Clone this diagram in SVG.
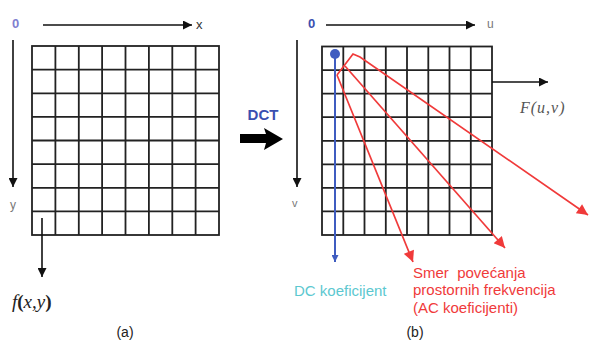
<svg xmlns="http://www.w3.org/2000/svg" width="595" height="343" viewBox="0 0 595 343">
<style>
.grid{fill:none;stroke:#222;stroke-width:1.8}
.ax{stroke:#111;stroke-width:1.6;fill:none}
.red{stroke:#f03a3a;stroke-width:1.7;fill:none}
.lbl{font-family:"Liberation Sans",Arial,sans-serif}
.math{font-family:"Liberation Serif","Times New Roman",serif;font-style:italic}
</style>
<defs>
<marker id="ab" viewBox="0 0 10 10" refX="10" refY="5" markerWidth="12" markerHeight="9" markerUnits="userSpaceOnUse" orient="auto"><path d="M0,0 L10,5 L0,10 z" fill="#111"/></marker>
<marker id="ar" viewBox="0 0 10 10" refX="10" refY="5" markerWidth="13" markerHeight="11" markerUnits="userSpaceOnUse" orient="auto"><path d="M0,0 L10,5 L0,10 z" fill="#f03a3a"/></marker>
<marker id="abl" viewBox="0 0 10 10" refX="10" refY="5" markerWidth="10" markerHeight="7" markerUnits="userSpaceOnUse" orient="auto"><path d="M0,0 L10,5 L0,10 z" fill="#3f5cc0"/></marker>
</defs>
<rect width="595" height="343" fill="#fff"/>

<g id="grid-a">
<rect class="grid" x="32" y="46" width="187" height="189"/>
<path class="grid" d="M55.4,46V235M78.8,46V235M102.1,46V235M125.5,46V235M148.9,46V235M172.3,46V235M195.6,46V235M32,69.6H219M32,93.3H219M32,116.9H219M32,140.5H219M32,164.1H219M32,187.8H219M32,211.4H219"/>
</g>

<g id="grid-b">
<rect class="grid" x="322" y="46.5" width="170" height="188.5"/>
<path class="grid" d="M343.3,46.5V235M364.5,46.5V235M385.8,46.5V235M407,46.5V235M428.3,46.5V235M449.5,46.5V235M470.8,46.5V235M322,70.1H492M322,93.6H492M322,117.2H492M322,140.8H492M322,164.3H492M322,187.9H492M322,211.4H492"/>
</g>

<g id="labels-a">
<text class="lbl" x="12" y="28" font-size="13" fill="#8080d0" font-weight="bold">0</text>
<text class="lbl" x="196" y="29" font-size="13" fill="#333">x</text>
<text class="lbl" x="10" y="209" font-size="12" fill="#777">y</text>
<text class="math" x="12" y="308" font-size="19" fill="#222">f<tspan font-weight="bold" font-style="normal">(</tspan>x,y<tspan font-weight="bold" font-style="normal">)</tspan></text>
<text class="lbl" x="125" y="337" font-size="14" fill="#222" text-anchor="middle">(a)</text>
</g>

<g id="labels-b">
<text class="lbl" x="308" y="28" font-size="13" fill="#3a4fb0" font-weight="bold">0</text>
<text class="lbl" x="487" y="28" font-size="12" fill="#777">u</text>
<text class="lbl" x="292" y="207" font-size="11" fill="#777">v</text>
<text class="math" x="520" y="113" font-size="16" fill="#555" letter-spacing="1">F(u,v)</text>
<text class="lbl" x="294" y="296" font-size="15" fill="#5cc8d0">DC koeficijent</text>
<g class="lbl" font-size="15" fill="#f03a3a">
<text x="413" y="278" xml:space="preserve">Smer  povećanja</text>
<text x="413" y="295">prostornih frekvencija</text>
<text x="413" y="313">(AC koeficijenti)</text>
</g>
<text class="lbl" x="415" y="337" font-size="14" fill="#222" text-anchor="middle">(b)</text>
</g>

<g id="dct">
<text class="lbl" x="263" y="120" font-size="15" fill="#3a4fb0" font-weight="bold" text-anchor="middle">DCT</text>
<polygon points="240,134 266,134 264,128 283,139 264,150 266,143 240,143" fill="#000"/>
</g>

<g id="connectors">
<path class="ax" d="M43,25H192" marker-end="url(#ab)"/>
<path class="ax" d="M13,40V187" marker-end="url(#ab)"/>
<path class="ax" d="M42,218V277" marker-end="url(#ab)"/>
<path class="ax" d="M326,25H475" marker-end="url(#ab)"/>
<path class="ax" d="M297,40V187" marker-end="url(#ab)"/>
<path class="ax" d="M492,82H548" marker-end="url(#ab)"/>
<circle cx="335" cy="54" r="5" fill="#3f5cc0"/>
<path d="M335,54V262" stroke="#3f5cc0" stroke-width="2" fill="none" marker-end="url(#abl)"/>
<path class="red" d="M337,75L353,54L360,57L588,215" marker-end="url(#ar)"/>
<path class="red" d="M337,75L413,262" marker-end="url(#ar)"/>
<path class="red" d="M345,66L505,248" marker-end="url(#ar)"/>
</g>
</svg>
